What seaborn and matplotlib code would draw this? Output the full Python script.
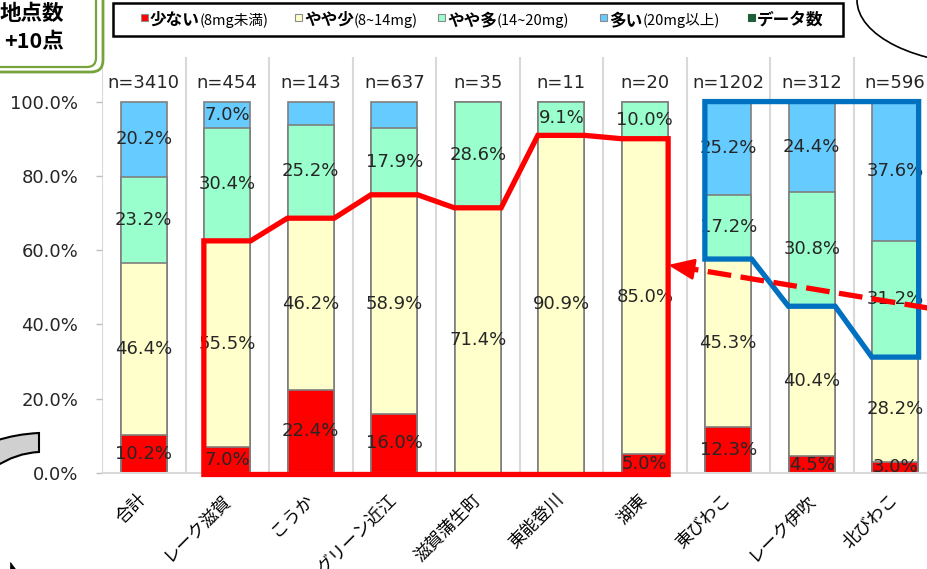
import matplotlib
matplotlib.use("Agg")
import numpy as np
import pandas as pd
import matplotlib.pyplot as plt
import seaborn as sns
from matplotlib import patches, transforms
from matplotlib.path import Path

# ---- data -------------------------------------------------------------
categories = ["合計", "レーク滋賀", "こうか", "グリーン近江", "滋賀蒲生町",
              "東能登川", "湖東", "東びわこ", "レーク伊吹", "北びわこ"]
counts = [3410, 454, 143, 637, 35, 11, 20, 1202, 312, 596]
low = [10.2, 7.0, 22.4, 16.0, 0.0, 0.0, 5.0, 12.3, 4.5, 3.0]
mid_low = [46.4, 55.5, 46.2, 58.9, 71.4, 90.9, 85.0, 45.3, 40.4, 28.2]
mid_high = [23.2, 30.4, 25.2, 17.9, 28.6, 9.1, 10.0, 17.2, 30.8, 31.2]
high = [20.2, 7.0, 6.2, 7.2, 0.0, 0.0, 0.0, 25.2, 24.4, 37.6]

series_names = ["少ない", "やや少", "やや多", "多い"]
series_ranges = ["(8mg未満)", "(8~14mg)", "(14~20mg)", "(20mg以上)"]
count_name = "データ数"
y_ticks = [0, 20, 40, 60, 80, 100]
hidden_labels = {("こうか", "多い"), ("グリーン近江", "多い")}

COLORS = ["#FF0000", "#FFFFCC", "#99FFCC", "#66CCFF"]
COUNT_COLOR = "#1F5F3B"
TEXT = "#262626"

# ---- style ------------------------------------------------------------
sns.set_theme(style="white")
plt.rcParams["font.family"] = ["DejaVu Sans", "Noto Sans CJK JP"]
JP = ["Noto Sans CJK JP", "DejaVu Sans"]

W, H = 928, 569
fig = plt.figure(figsize=(W / 100, H / 100), dpi=100)
fig.patch.set_facecolor("white")
# pixel coordinates measured from the top-left corner of the figure
px = transforms.Affine2D().scale(1 / W, -1 / H).translate(0, 1) + fig.transFigure

ax = fig.add_axes([102 / W, 1 - 473 / H, 835 / W, 416 / H])

df = pd.DataFrame({"category": categories})
for name, vals in zip(series_names, [low, mid_low, mid_high, high]):
    df[name] = vals
tops = df[series_names].cumsum(axis=1)
bottoms = tops - df[series_names]

# stacked bars: draw cumulative totals from the tallest layer down
for name, color in reversed(list(zip(series_names, COLORS))):
    layer = pd.DataFrame({"category": categories, "top": tops[name]})
    sns.barplot(data=layer, x="category", y="top", order=categories,
                color=color, saturation=1, width=0.55, edgecolor="#7F7F7F",
                linewidth=1.2, errorbar=None, ax=ax, zorder=2)

ax.set_xlim(-0.5, len(categories) - 0.5)
ax.set_ylim(0, 112)
ax.set_xlabel("")
ax.set_ylabel("")

for xv in np.arange(-0.5, len(categories)):
    ax.axvline(xv, color="#D9D9D9", lw=1.5, zorder=0)

for side in ["top", "right", "left"]:
    ax.spines[side].set_visible(False)
ax.spines["bottom"].set_color("#D9D9D9")
ax.spines["bottom"].set_linewidth(1.5)

ax.set_yticks(y_ticks)
ax.set_yticklabels([f"{v:.1f}%" for v in y_ticks])
ax.tick_params(axis="y", left=True, length=4, width=1, color="#BFBFBF",
               pad=13, labelsize=13, labelcolor=TEXT)
ax.tick_params(axis="x", bottom=False, length=0, pad=17)
for lbl in ax.get_xticklabels():
    lbl.set_rotation(45)
    lbl.set_ha("right")
    lbl.set_va("center")
    lbl.set_rotation_mode("anchor")
    lbl.set_fontfamily(JP)
    lbl.set_fontsize(12.5)
    lbl.set_color("black")

# segment value labels and sample counts
for i, cat in enumerate(categories):
    for name in series_names:
        v = df.loc[i, name]
        if v <= 0 or (cat, name) in hidden_labels:
            continue
        ax.text(i, bottoms.loc[i, name] + v / 2, f"{v:.1f}%", ha="center",
                va="center", fontsize=13, color=TEXT, zorder=3)
    ax.text(i, 105, f"n={counts[i]}", ha="center", va="center",
            fontsize=13, color=TEXT, zorder=3)

# outlines following the top of the "やや少" layer
half = 0.28
base = -0.4
yt = tops["やや少"]
red_idx = range(1, 7)
red = [(red_idx[0] - half, base)]
for i in red_idx:
    red += [(i - half, yt[i]), (i + half, yt[i])]
red.append((red_idx[-1] + half, base))
ax.add_patch(patches.Polygon(red, closed=True, fill=False, ec="#FF0000",
                             lw=3.8, joinstyle="miter", zorder=5, clip_on=False))

blue_idx = [9, 8, 7]
blue = [(7 - half, 100), (9 + half, 100)]
for i in blue_idx:
    blue += [(i + half, yt[i]), (i - half, yt[i])]
ax.add_patch(patches.Polygon(blue, closed=True, fill=False, ec="#0070C0",
                             lw=3.8, joinstyle="miter", zorder=5, clip_on=False))

# dashed arrow pointing at the 湖東 bar
tip = np.array([6 + half, 56.0])
slope = -3.72
tail = np.array([9.8, tip[1] + slope * (9.8 - tip[0])])
head_base = np.array([tip[0] + 0.25, tip[1] + slope * 0.25])
ax.plot([tail[0], head_base[0]], [tail[1], head_base[1]], color="#FF0000",
        lw=3.8, dashes=(4.5, 1.8), solid_capstyle="butt", dash_capstyle="butt",
        zorder=5, clip_on=False)
ax.annotate("", xy=tip, xytext=head_base, annotation_clip=False,
            arrowprops=dict(arrowstyle="-|>,head_length=1.6,head_width=0.65",
                            mutation_scale=10, color="#FF0000", lw=2,
                            shrinkA=0, shrinkB=0), zorder=6)

# ---- legend ---------------------------------------------------------------
fig.add_artist(patches.Rectangle((113, 3), 730, 33, transform=px, fc="white",
                                 ec="black", lw=1.8))
entries = list(zip(series_names, series_ranges, COLORS)) + [(count_name, "", COUNT_COLOR)]
sq_x = [141, 295, 438, 600, 748]
renderer = fig.canvas.get_renderer()
for x0, (main, sub, col) in zip(sq_x, entries):
    fig.add_artist(patches.Rectangle((x0, 14), 7, 7, transform=px, fc=col,
                                     ec="#8C8C8C" if sub else col, lw=0.8))
    t = fig.text(x0 + 9, 25, main, transform=px, ha="left", va="baseline",
                 fontsize=12, fontfamily=JP, fontweight="bold", color="black")
    if sub:
        bb = t.get_window_extent(renderer)
        fig.text(bb.x1, 25, sub, transform=px, ha="left", va="baseline",
                 fontsize=10.5, fontfamily=JP, color="black")

# ---- callouts around the chart ------------------------------------------
fig.add_artist(patches.FancyBboxPatch((-60, -60), 163, 132, transform=px,
               boxstyle="round,pad=0,rounding_size=12", fc="white",
               ec="#77A33B", lw=2))
fig.add_artist(patches.FancyBboxPatch((-60, -60), 156, 127, transform=px,
               boxstyle="round,pad=0,rounding_size=9", fc="none",
               ec="#77A33B", lw=1.6))
fig.text(64, 13, "地点数", transform=px, ha="right", va="center",
         fontsize=15.5, fontweight="bold", fontfamily=JP, color="black")
fig.text(64, 41, "+10点", transform=px, ha="right", va="center",
         fontsize=15.5, fontweight="bold", fontfamily=JP, color="black")

fig.add_artist(patches.Ellipse((990, 0), 266, 130, transform=px, fill=False,
                               ec="black", lw=1.2))

band = Path([(-5, 441), (16, 434), (39, 433), (39, 452), (16, 453), (-5, 467), (-5, 441)],
            [Path.MOVETO, Path.CURVE3, Path.CURVE3, Path.LINETO,
             Path.CURVE3, Path.CURVE3, Path.CLOSEPOLY])
fig.add_artist(patches.PathPatch(band, transform=px, fc="#D0D0D0", ec="black", lw=1.5))
fig.add_artist(patches.Polygon([(10, 562), (10, 570), (16, 570)], closed=True,
                               transform=px, fc="black", ec="black", lw=0.5))

fig.savefig("out.png", dpi=100, facecolor="white")
